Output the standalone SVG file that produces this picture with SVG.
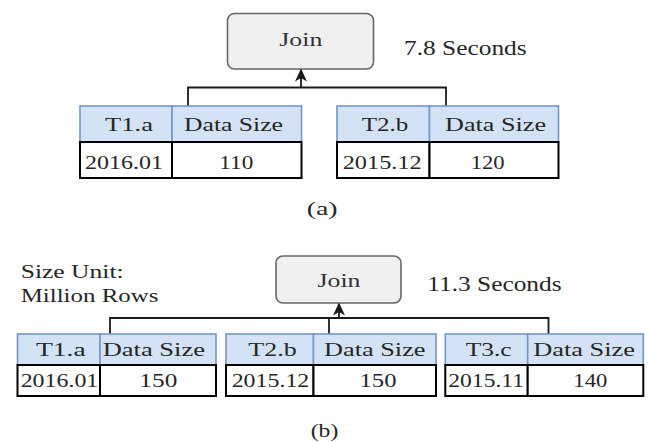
<svg xmlns="http://www.w3.org/2000/svg" width="651" height="442" viewBox="0 0 651 442">
<style>
  text { font-family: "Liberation Serif", "DejaVu Serif", serif; font-size: 19.5px; fill: #262626; }
  .big { font-size: 20.5px; }
  .join { fill: #f0f0f0; stroke: #666666; stroke-width: 1.6; }
  .jt { fill: #333333; }
  .hdr { fill: #d3e3f5; stroke: #7396c6; stroke-width: 1.6; }
  .dat { fill: #ffffff; stroke: #000000; stroke-width: 2; }
  .conn { fill: none; stroke: #1a1a1a; stroke-width: 1.8; }
</style>
<defs>
  <marker id="arr" viewBox="0 0 13 12" refX="13" refY="6" markerWidth="13" markerHeight="12" markerUnits="userSpaceOnUse" orient="auto">
    <path d="M0,0 L13,6 L0,12 L3.5,6 z" fill="#1a1a1a"/>
  </marker>
</defs>

<g id="connectors">
  <polyline class="conn" points="188,106 188,87.5 446,87.5 446,106"/>
  <line class="conn" x1="301" y1="87.5" x2="301" y2="68.5" marker-end="url(#arr)"/>
  <polyline class="conn" points="110,334 110,318 548.5,318 548.5,334"/>
  <line class="conn" x1="329" y1="318" x2="329" y2="334"/>
  <line class="conn" x1="339" y1="318" x2="339" y2="302.5" marker-end="url(#arr)"/>
</g>

<!-- (a) -->
<g id="join-a">
  <rect class="join" x="227.5" y="13.5" width="146" height="55.5" rx="7"/>
  <text class="jt" x="279.3" y="46" textLength="43" lengthAdjust="spacingAndGlyphs">Join</text>
</g>
<g id="time-a">
  <text class="big" x="404" y="55" textLength="122.7" lengthAdjust="spacingAndGlyphs">7.8 Seconds</text>
</g>
<g id="table-a1">
  <rect class="hdr" x="80" y="106" width="92" height="36"/>
  <rect class="hdr" x="172" y="106" width="129.5" height="36"/>
  <rect class="dat" x="80" y="142" width="92" height="36"/>
  <rect class="dat" x="172" y="142" width="129.5" height="36"/>
  <text x="105" y="131" textLength="48" lengthAdjust="spacingAndGlyphs">T1.a</text>
  <text x="184" y="131" textLength="99" lengthAdjust="spacingAndGlyphs">Data Size</text>
  <text x="85" y="169" textLength="78" lengthAdjust="spacingAndGlyphs">2016.01</text>
  <text x="219.3" y="169" textLength="34" lengthAdjust="spacingAndGlyphs">110</text>
</g>
<g id="table-a2">
  <rect class="hdr" x="337" y="106" width="92.5" height="36"/>
  <rect class="hdr" x="429.5" y="106" width="129" height="36"/>
  <rect class="dat" x="337" y="142" width="92.5" height="36"/>
  <rect class="dat" x="429.5" y="142" width="129" height="36"/>
  <text x="361.7" y="131" textLength="46.7" lengthAdjust="spacingAndGlyphs">T2.b</text>
  <text x="445" y="131" textLength="101" lengthAdjust="spacingAndGlyphs">Data Size</text>
  <text x="342.7" y="169" textLength="79" lengthAdjust="spacingAndGlyphs">2015.12</text>
  <text x="470.7" y="169" textLength="34" lengthAdjust="spacingAndGlyphs">120</text>
</g>
<g id="caption-a">
  <text x="306.7" y="215" textLength="31" lengthAdjust="spacingAndGlyphs">(a)</text>
</g>

<!-- (b) -->
<g id="unit-note">
  <text x="20.7" y="278" textLength="103" lengthAdjust="spacingAndGlyphs">Size Unit:</text>
  <text x="20.7" y="301.7" textLength="137.7" lengthAdjust="spacingAndGlyphs">Million Rows</text>
</g>
<g id="join-b">
  <rect class="join" x="276" y="256" width="125" height="47" rx="7"/>
  <text class="jt" x="317.5" y="286.7" textLength="43" lengthAdjust="spacingAndGlyphs">Join</text>
</g>
<g id="time-b">
  <text class="big" x="427.3" y="290.7" textLength="134.3" lengthAdjust="spacingAndGlyphs">11.3 Seconds</text>
</g>
<g id="table-b1">
  <rect class="hdr" x="17.5" y="334" width="82.5" height="31"/>
  <rect class="hdr" x="100" y="334" width="116" height="31"/>
  <rect class="dat" x="17.5" y="365" width="82.5" height="31"/>
  <rect class="dat" x="100" y="365" width="116" height="31"/>
  <text x="36" y="356" textLength="49.7" lengthAdjust="spacingAndGlyphs">T1.a</text>
  <text x="102.7" y="356" textLength="102.3" lengthAdjust="spacingAndGlyphs">Data Size</text>
  <text x="20.7" y="387.3" textLength="77.6" lengthAdjust="spacingAndGlyphs">2016.01</text>
  <text x="139.3" y="387.3" textLength="38" lengthAdjust="spacingAndGlyphs">150</text>
</g>
<g id="table-b2">
  <rect class="hdr" x="226" y="334" width="87.5" height="31"/>
  <rect class="hdr" x="313.5" y="334" width="122.5" height="31"/>
  <rect class="dat" x="226" y="365" width="87.5" height="31"/>
  <rect class="dat" x="313.5" y="365" width="122.5" height="31"/>
  <text x="248.3" y="356" textLength="48.4" lengthAdjust="spacingAndGlyphs">T2.b</text>
  <text x="324" y="356" textLength="101.5" lengthAdjust="spacingAndGlyphs">Data Size</text>
  <text x="231.7" y="387.3" textLength="77.6" lengthAdjust="spacingAndGlyphs">2015.12</text>
  <text x="359.5" y="387.3" textLength="37" lengthAdjust="spacingAndGlyphs">150</text>
</g>
<g id="table-b3">
  <rect class="hdr" x="445.3" y="334" width="82.4" height="31"/>
  <rect class="hdr" x="527.7" y="334" width="115.6" height="31"/>
  <rect class="dat" x="445.3" y="365" width="82.4" height="31"/>
  <rect class="dat" x="527.7" y="365" width="115.6" height="31"/>
  <text x="465.7" y="356" textLength="46" lengthAdjust="spacingAndGlyphs">T3.c</text>
  <text x="533.3" y="356" textLength="101.7" lengthAdjust="spacingAndGlyphs">Data Size</text>
  <text x="448.3" y="387.3" textLength="75.7" lengthAdjust="spacingAndGlyphs">2015.11</text>
  <text x="573.3" y="387.3" textLength="34" lengthAdjust="spacingAndGlyphs">140</text>
</g>
<g id="caption-b">
  <text x="310.7" y="436.7" textLength="27.6" lengthAdjust="spacingAndGlyphs">(b)</text>
</g>
</svg>
